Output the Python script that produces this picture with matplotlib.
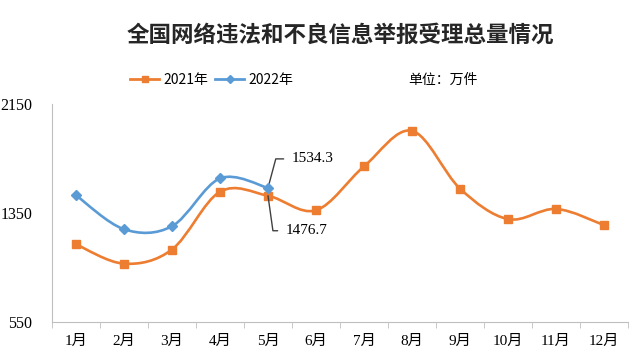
import matplotlib
matplotlib.use("Agg")
import matplotlib.pyplot as plt
import numpy as np
from matplotlib.path import Path
from matplotlib.patches import PathPatch
from matplotlib.lines import Line2D

plt.rcParams['font.family'] = ['Noto Sans CJK SC', 'DejaVu Sans']

months = ["1月", "2月", "3月", "4月", "5月", "6月",
          "7月", "8月", "9月", "10月", "11月", "12月"]
y2021 = [1120, 978, 1082, 1506, 1476.7, 1370, 1692, 1953, 1529, 1305, 1380, 1261]
y2022 = [1480, 1231, 1253, 1604, 1534.3]
yticks = [550, 1350, 2150]

orange = "#ED7D31"
blue = "#5B9BD5"
serif = ['Liberation Serif', 'Noto Sans CJK SC']


def smooth_path(xs, ys):
    # excel style smoothed line (catmull-rom -> bezier)
    pts = np.column_stack([xs, ys]).astype(float)
    verts = [pts[0]]
    codes = [Path.MOVETO]
    n = len(pts)
    for i in range(n - 1):
        p0 = pts[i - 1] if i > 0 else pts[i]
        p1 = pts[i]
        p2 = pts[i + 1]
        p3 = pts[i + 2] if i + 2 < n else pts[i + 1]
        verts += [p1 + (p2 - p0) / 6, p2 - (p3 - p1) / 6, p2]
        codes += [Path.CURVE4] * 3
    return Path(verts, codes)


fig = plt.figure(figsize=(6.44, 3.57), dpi=100)
ax = fig.add_axes([52 / 644, 35 / 357, 576 / 644, 218 / 357])

x21 = np.arange(len(y2021))
x22 = np.arange(len(y2022))

ax.add_patch(PathPatch(smooth_path(x21, y2021), fill=False, ec=orange, lw=1.9, zorder=2))
ax.plot(x21, y2021, ls="none", marker="s", ms=6, color=orange, zorder=3)
ax.add_patch(PathPatch(smooth_path(x22, y2022), fill=False, ec=blue, lw=1.9, zorder=4))
ax.plot(x22, y2022, ls="none", marker="D", ms=5, color=blue, zorder=5)

ax.set_xlim(-0.5, 11.5)
ax.set_ylim(550, 2150)
ax.set_yticks(yticks)
ax.set_yticklabels([str(v) for v in yticks], family=serif, fontsize=11.5)
ax.tick_params(axis="y", length=0, pad=14)
ax.set_xticks(x21)
ax.set_xticklabels(months, family=serif, fontsize=11)
ax.set_xticks(np.arange(-0.5, 12, 1), minor=True)
ax.tick_params(axis="x", which="major", length=0, pad=9)
ax.tick_params(axis="x", which="minor", length=4, color="#BFBFBF", direction="out")

for s in ["top", "right"]:
    ax.spines[s].set_visible(False)
for s in ["left", "bottom"]:
    ax.spines[s].set_color("#BFBFBF")

# leader lines for may values
ax.annotate("1534.3", xy=(4, y2022[4]), xytext=(24, 29), textcoords="offset pixels",
            va="center", ha="left", family=serif, fontsize=11,
            arrowprops=dict(arrowstyle="-", color="#404040", lw=1,
                            connectionstyle="angle,angleA=0,angleB=75,rad=0",
                            relpos=(0, 0.5), shrinkA=4, shrinkB=0))
ax.annotate("1476.7", xy=(4, y2021[4]), xytext=(18, -35), textcoords="offset pixels",
            va="center", ha="left", family=serif, fontsize=11,
            arrowprops=dict(arrowstyle="-", color="#404040", lw=1,
                            connectionstyle="angle,angleA=0,angleB=-82,rad=0",
                            relpos=(0, 0.5), shrinkA=4, shrinkB=0))

fig.text(340 / 644, 1 - 35 / 357, "全国网络违法和不良信息举报受理总量情况",
         ha="center", va="center", fontsize=16.2, fontweight="bold", color="#262626")
fig.text(408 / 644, 1 - 80 / 357, "单位：万件", ha="left", va="center", fontsize=10)

handles = [Line2D([], [], color=orange, lw=2, marker="s", ms=5),
           Line2D([], [], color=blue, lw=2, marker="D", ms=4)]
fig.legend(handles, ["2021年", "2022年"], loc="center left",
           bbox_to_anchor=(130 / 644, 1 - 80 / 357), ncol=2, frameon=False,
           fontsize=10, handlelength=2.1, handletextpad=0.3, columnspacing=0.5,
           borderpad=0, borderaxespad=0)

plt.savefig("out.png", dpi=100)
